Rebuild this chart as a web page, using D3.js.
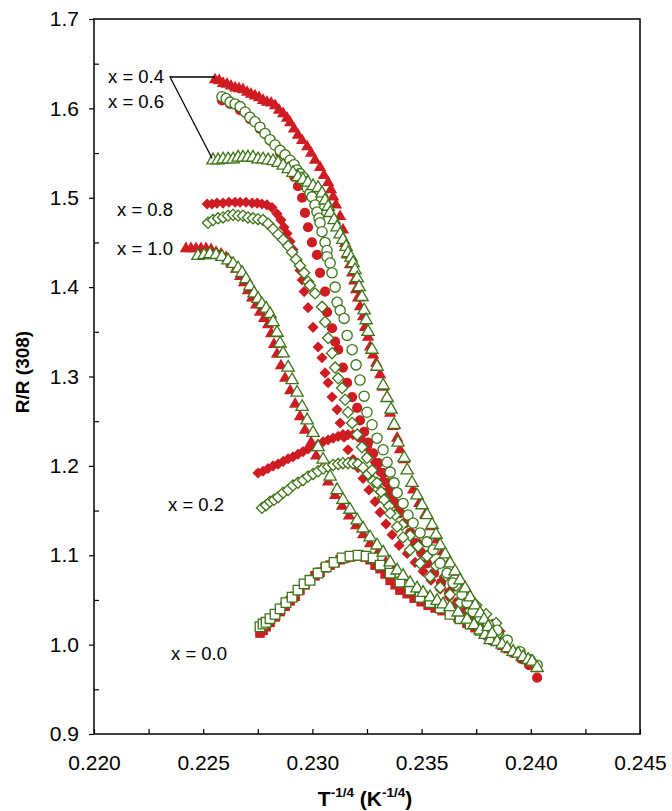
<!DOCTYPE html>
<html><head><meta charset="utf-8">
<script src="https://cdn.jsdelivr.net/npm/d3@7"></script>
<style>body{margin:0;background:#fff}svg{display:block}</style>
</head><body>
<svg id="c" width="672" height="811"></svg>
<script>
const xMajor = [0.220,0.225,0.230,0.235,0.240,0.245];
const xMinor = [0.2225,0.2275,0.2325,0.2375,0.2425];
const yMajor = [0.9,1.0,1.1,1.2,1.3,1.4,1.5,1.6,1.7];
const yMinor = [0.95,1.05,1.15,1.25,1.35,1.45,1.55,1.65];

// x = 0.4 (triangles)
const x04Red = [[0.22554,1.632],[0.22573,1.631],[0.22591,1.628],[0.22609,1.627],[0.22627,1.625],[0.22646,1.623],[0.22664,1.622],[0.22682,1.621],[0.22701,1.618],[0.22719,1.616],[0.22737,1.614],[0.22756,1.612],[0.22774,1.609],[0.22792,1.607],[0.22811,1.606],[0.22829,1.603],[0.22847,1.598],[0.22866,1.594],[0.22884,1.589],[0.22898,1.584],[0.22916,1.577],[0.22934,1.570],[0.22953,1.564],[0.22976,1.557],[0.22994,1.550],[0.23012,1.542],[0.23035,1.534],[0.23053,1.525],[0.23072,1.517],[0.23085,1.509],[0.23095,1.501],[0.23108,1.492],[0.23127,1.479],[0.23140,1.464],[0.23150,1.449],[0.23159,1.436],[0.23172,1.425],[0.23182,1.416],[0.23191,1.407],[0.23200,1.397],[0.23209,1.388],[0.23218,1.378],[0.23232,1.367],[0.23241,1.355],[0.23255,1.344],[0.23264,1.333],[0.23278,1.324],[0.23292,1.315],[0.23310,1.302],[0.23324,1.288],[0.23342,1.277],[0.23356,1.259],[0.23369,1.244],[0.23388,1.231],[0.23401,1.218],[0.23420,1.207],[0.23434,1.195],[0.23461,1.173],[0.23489,1.158],[0.23516,1.145],[0.23543,1.132],[0.23571,1.117],[0.23598,1.104],[0.23626,1.092],[0.23653,1.081],[0.23681,1.070],[0.23708,1.059],[0.23736,1.048],[0.23763,1.038],[0.23791,1.028],[0.23818,1.016],[0.23846,1.005],[0.23873,0.998],[0.23901,0.994],[0.23928,0.990],[0.23956,0.986],[0.23983,0.982],[0.24011,0.977],[0.24029,0.973]];
const x04Green = [[0.22545,1.542],[0.22568,1.542],[0.22591,1.543],[0.22614,1.543],[0.22637,1.543],[0.22660,1.545],[0.22682,1.545],[0.22705,1.545],[0.22728,1.545],[0.22751,1.543],[0.22774,1.543],[0.22797,1.542],[0.22820,1.541],[0.22843,1.539],[0.22866,1.536],[0.22889,1.532],[0.22911,1.528],[0.22934,1.523],[0.22957,1.520],[0.22980,1.517],[0.23003,1.513],[0.23026,1.511],[0.23044,1.505],[0.23058,1.497],[0.23072,1.490],[0.23081,1.483],[0.23099,1.475],[0.23113,1.467],[0.23127,1.459],[0.23140,1.453],[0.23154,1.445],[0.23163,1.438],[0.23177,1.433],[0.23186,1.427],[0.23195,1.419],[0.23205,1.410],[0.23214,1.400],[0.23227,1.389],[0.23237,1.374],[0.23246,1.363],[0.23255,1.350],[0.23273,1.330],[0.23296,1.311],[0.23324,1.290],[0.23342,1.276],[0.23360,1.263],[0.23374,1.246],[0.23392,1.226],[0.23420,1.209],[0.23434,1.195],[0.23456,1.181],[0.23479,1.167],[0.23502,1.156],[0.23525,1.145],[0.23548,1.134],[0.23566,1.123],[0.23585,1.111],[0.23608,1.101],[0.23630,1.091],[0.23653,1.082],[0.23676,1.072],[0.23699,1.063],[0.23722,1.053],[0.23745,1.044],[0.23768,1.035],[0.23786,1.028],[0.23805,1.020],[0.23823,1.012],[0.23846,1.003],[0.23869,1.000],[0.23892,0.996],[0.23919,0.992],[0.23942,0.990],[0.23965,0.986],[0.23988,0.983],[0.24006,0.981],[0.24029,0.974]];

// x = 0.6 (circles)
const x06Red = [[0.22586,1.609],[0.22623,1.605],[0.22669,1.598],[0.22714,1.588],[0.22760,1.577],[0.22806,1.564],[0.22852,1.550],[0.22889,1.537],[0.22916,1.524],[0.22934,1.513],[0.22953,1.500],[0.22966,1.483],[0.22980,1.467],[0.22998,1.450],[0.23021,1.436],[0.23035,1.416],[0.23058,1.395],[0.23067,1.372],[0.23090,1.354],[0.23104,1.339],[0.23118,1.330],[0.23140,1.310],[0.23159,1.293],[0.23182,1.277],[0.23205,1.265],[0.23218,1.251],[0.23237,1.238],[0.23255,1.226],[0.23278,1.214],[0.23301,1.203],[0.23324,1.192],[0.23342,1.181],[0.23356,1.170],[0.23379,1.158],[0.23401,1.147],[0.23424,1.136],[0.23447,1.125],[0.23470,1.114],[0.23498,1.103],[0.23525,1.091],[0.23557,1.080],[0.23589,1.069],[0.23626,1.058],[0.23663,1.047],[0.23699,1.037],[0.23736,1.028],[0.23772,1.020],[0.23809,1.013],[0.23846,1.005],[0.23882,0.997],[0.23919,0.991],[0.23956,0.984],[0.23992,0.977],[0.24029,0.963]];
const x06Green = [[0.22586,1.613],[0.22605,1.611],[0.22623,1.607],[0.22646,1.605],[0.22669,1.602],[0.22692,1.596],[0.22714,1.590],[0.22737,1.585],[0.22760,1.579],[0.22783,1.572],[0.22806,1.565],[0.22829,1.559],[0.22852,1.553],[0.22875,1.548],[0.22898,1.542],[0.22916,1.537],[0.22930,1.531],[0.22943,1.527],[0.22957,1.523],[0.22966,1.518],[0.22976,1.511],[0.22989,1.505],[0.22998,1.501],[0.23012,1.492],[0.23021,1.484],[0.23030,1.477],[0.23035,1.472],[0.23044,1.462],[0.23058,1.450],[0.23067,1.441],[0.23067,1.434],[0.23081,1.427],[0.23090,1.416],[0.23104,1.400],[0.23113,1.383],[0.23127,1.374],[0.23145,1.365],[0.23159,1.346],[0.23182,1.330],[0.23200,1.313],[0.23218,1.296],[0.23237,1.278],[0.23250,1.260],[0.23273,1.246],[0.23296,1.231],[0.23324,1.218],[0.23342,1.204],[0.23356,1.193],[0.23374,1.181],[0.23388,1.170],[0.23415,1.158],[0.23438,1.145],[0.23461,1.136],[0.23493,1.125],[0.23525,1.115],[0.23553,1.106],[0.23585,1.091],[0.23617,1.080],[0.23644,1.069],[0.23685,1.056],[0.23708,1.047],[0.23736,1.037],[0.23768,1.030],[0.23805,1.022],[0.23846,1.016],[0.23892,1.005],[0.23951,0.992],[0.23997,0.983],[0.24029,0.977]];

// x = 0.8 (diamonds)
const x08Red = [[0.22518,1.493],[0.22540,1.493],[0.22563,1.494],[0.22591,1.494],[0.22618,1.495],[0.22646,1.495],[0.22669,1.495],[0.22696,1.495],[0.22724,1.494],[0.22747,1.494],[0.22769,1.493],[0.22792,1.492],[0.22815,1.489],[0.22838,1.482],[0.22856,1.475],[0.22870,1.467],[0.22884,1.460],[0.22898,1.451],[0.22911,1.442],[0.22930,1.430],[0.22943,1.419],[0.22953,1.408],[0.22962,1.395],[0.22980,1.377],[0.23003,1.355],[0.23026,1.333],[0.23044,1.321],[0.23058,1.304],[0.23072,1.293],[0.23090,1.277],[0.23113,1.263],[0.23127,1.248],[0.23145,1.232],[0.23163,1.218],[0.23186,1.207],[0.23209,1.198],[0.23232,1.186],[0.23259,1.173],[0.23287,1.160],[0.23310,1.148],[0.23337,1.135],[0.23365,1.123],[0.23397,1.111],[0.23434,1.102],[0.23470,1.092],[0.23507,1.082],[0.23543,1.072],[0.23585,1.062],[0.23626,1.053],[0.23667,1.044],[0.23708,1.035],[0.23750,1.028],[0.23791,1.020],[0.23832,1.012]];
const x08Green = [[0.22522,1.472],[0.22545,1.475],[0.22568,1.477],[0.22591,1.478],[0.22614,1.480],[0.22637,1.481],[0.22660,1.480],[0.22682,1.480],[0.22705,1.478],[0.22728,1.477],[0.22751,1.476],[0.22774,1.475],[0.22797,1.471],[0.22820,1.465],[0.22843,1.459],[0.22866,1.453],[0.22889,1.446],[0.22907,1.439],[0.22925,1.431],[0.22943,1.424],[0.22962,1.416],[0.22980,1.406],[0.22989,1.402],[0.23012,1.393],[0.23044,1.378],[0.23058,1.361],[0.23072,1.343],[0.23090,1.326],[0.23104,1.310],[0.23118,1.298],[0.23136,1.287],[0.23150,1.274],[0.23163,1.260],[0.23182,1.248],[0.23205,1.235],[0.23227,1.221],[0.23250,1.209],[0.23273,1.195],[0.23296,1.181],[0.23315,1.171],[0.23328,1.162],[0.23356,1.147],[0.23388,1.132],[0.23415,1.120],[0.23447,1.106],[0.23493,1.091],[0.23539,1.076],[0.23585,1.064],[0.23630,1.056],[0.23676,1.047],[0.23722,1.038],[0.23768,1.029],[0.23814,1.020],[0.23850,1.012]];

// x = 1.0 (triangles)
const x10Red = [[0.22421,1.443],[0.22444,1.443],[0.22467,1.443],[0.22490,1.443],[0.22513,1.443],[0.22536,1.442],[0.22559,1.439],[0.22582,1.437],[0.22605,1.433],[0.22627,1.427],[0.22650,1.420],[0.22669,1.412],[0.22687,1.405],[0.22705,1.396],[0.22724,1.388],[0.22742,1.380],[0.22760,1.372],[0.22779,1.365],[0.22797,1.358],[0.22811,1.348],[0.22824,1.336],[0.22838,1.325],[0.22856,1.312],[0.22875,1.298],[0.22898,1.284],[0.22921,1.269],[0.22943,1.255],[0.22966,1.240],[0.22994,1.226],[0.23017,1.211],[0.23044,1.197],[0.23072,1.182],[0.23104,1.167],[0.23136,1.155],[0.23168,1.144],[0.23200,1.133],[0.23232,1.123],[0.23264,1.113],[0.23301,1.103],[0.23337,1.092],[0.23374,1.083],[0.23411,1.075],[0.23447,1.067],[0.23484,1.060],[0.23525,1.053],[0.23566,1.048],[0.23608,1.042],[0.23649,1.035],[0.23690,1.029],[0.23731,1.022],[0.23772,1.015],[0.23809,1.009],[0.23832,1.004]];
const x10Green = [[0.22476,1.435],[0.22504,1.436],[0.22531,1.437],[0.22559,1.436],[0.22586,1.434],[0.22614,1.430],[0.22637,1.426],[0.22660,1.421],[0.22678,1.416],[0.22696,1.409],[0.22714,1.401],[0.22733,1.393],[0.22751,1.387],[0.22769,1.381],[0.22788,1.376],[0.22806,1.370],[0.22820,1.361],[0.22838,1.349],[0.22852,1.337],[0.22866,1.326],[0.22889,1.310],[0.22907,1.296],[0.22930,1.282],[0.22953,1.266],[0.22976,1.251],[0.23003,1.237],[0.23026,1.221],[0.23049,1.207],[0.23081,1.188],[0.23113,1.173],[0.23140,1.162],[0.23172,1.151],[0.23205,1.139],[0.23232,1.130],[0.23264,1.120],[0.23296,1.111],[0.23324,1.103],[0.23356,1.092],[0.23388,1.083],[0.23415,1.077],[0.23447,1.069],[0.23479,1.063],[0.23507,1.058],[0.23539,1.053],[0.23571,1.049],[0.23598,1.045],[0.23630,1.042],[0.23667,1.036],[0.23708,1.028],[0.23740,1.022],[0.23768,1.016],[0.23791,1.011],[0.23814,1.005]];

// x = 0.2 (diamonds)
const x02Red = [[0.22751,1.192],[0.22774,1.194],[0.22797,1.197],[0.22820,1.200],[0.22843,1.202],[0.22866,1.205],[0.22889,1.208],[0.22911,1.210],[0.22934,1.213],[0.22957,1.216],[0.22980,1.219],[0.23003,1.222],[0.23026,1.224],[0.23049,1.227],[0.23072,1.229],[0.23095,1.231],[0.23118,1.233],[0.23140,1.235],[0.23163,1.235],[0.23186,1.235],[0.23209,1.232],[0.23232,1.228],[0.23250,1.221],[0.23269,1.213],[0.23287,1.204],[0.23305,1.194],[0.23324,1.184],[0.23347,1.173],[0.23369,1.162],[0.23397,1.150],[0.23424,1.137],[0.23456,1.125],[0.23489,1.113],[0.23525,1.100],[0.23562,1.088],[0.23603,1.076],[0.23644,1.064],[0.23685,1.053],[0.23731,1.043],[0.23777,1.033],[0.23823,1.023],[0.23859,1.015]];
const x02Green = [[0.22769,1.153],[0.22788,1.156],[0.22806,1.160],[0.22824,1.162],[0.22843,1.165],[0.22866,1.170],[0.22889,1.173],[0.22911,1.178],[0.22934,1.181],[0.22957,1.184],[0.22980,1.188],[0.23003,1.191],[0.23026,1.194],[0.23049,1.197],[0.23072,1.199],[0.23095,1.201],[0.23118,1.202],[0.23140,1.203],[0.23163,1.203],[0.23186,1.203],[0.23209,1.202],[0.23232,1.198],[0.23255,1.191],[0.23278,1.183],[0.23301,1.174],[0.23324,1.165],[0.23351,1.155],[0.23379,1.145],[0.23411,1.134],[0.23447,1.122],[0.23484,1.110],[0.23525,1.099],[0.23566,1.088],[0.23612,1.077],[0.23658,1.066],[0.23704,1.054],[0.23750,1.044],[0.23795,1.034],[0.23841,1.024]];

// x = 0.0 (squares)
const x00Red = [[0.22760,1.013],[0.22774,1.016],[0.22788,1.020],[0.22806,1.025],[0.22829,1.031],[0.22852,1.037],[0.22875,1.043],[0.22898,1.049],[0.22921,1.054],[0.22943,1.061],[0.22966,1.067],[0.22989,1.072],[0.23012,1.077],[0.23035,1.081],[0.23058,1.086],[0.23081,1.089],[0.23104,1.092],[0.23127,1.095],[0.23150,1.097],[0.23172,1.098],[0.23195,1.099],[0.23218,1.099],[0.23241,1.098],[0.23264,1.095],[0.23287,1.089],[0.23310,1.085],[0.23333,1.079],[0.23356,1.072],[0.23379,1.067],[0.23401,1.061],[0.23434,1.057],[0.23466,1.052],[0.23498,1.048],[0.23530,1.044],[0.23562,1.041],[0.23594,1.038],[0.23630,1.034],[0.23667,1.030],[0.23708,1.024],[0.23745,1.019],[0.23786,1.012],[0.23827,1.005]];
const x00Green = [[0.22760,1.020],[0.22774,1.023],[0.22788,1.025],[0.22806,1.029],[0.22829,1.034],[0.22852,1.040],[0.22879,1.047],[0.22907,1.053],[0.22934,1.061],[0.22962,1.068],[0.22989,1.072],[0.23026,1.080],[0.23063,1.087],[0.23099,1.092],[0.23136,1.097],[0.23172,1.099],[0.23209,1.100],[0.23246,1.099],[0.23278,1.097],[0.23310,1.089],[0.23356,1.080],[0.23401,1.070],[0.23447,1.061],[0.23493,1.053],[0.23539,1.047],[0.23585,1.041],[0.23630,1.034],[0.23676,1.029],[0.23722,1.023],[0.23768,1.016],[0.23814,1.010]];

const labels = ["x = 0.4","x = 0.6","x = 0.8","x = 1.0","x = 0.2","x = 0.0"];

const RED = "#cf1b22", GREEN = "#3b7516";
const series = [
  {data:x00Red, shape:"square", fill:true},
  {data:x02Red, shape:"diamond", fill:true},
  {data:x10Red, shape:"triangle", fill:true},
  {data:x08Red, shape:"diamond", fill:true},
  {data:x06Red, shape:"circle", fill:true},
  {data:x04Red, shape:"triangle", fill:true},
  {data:x00Green, shape:"square", fill:false},
  {data:x02Green, shape:"diamond", fill:false},
  {data:x10Green, shape:"triangle", fill:false},
  {data:x08Green, shape:"diamond", fill:false},
  {data:x06Green, shape:"circle", fill:false},
  {data:x04Green, shape:"triangle", fill:false}
];

const svg = d3.select("#c");
const L = 94, R = 640, T = 19, B = 734;
const x = d3.scaleLinear().domain([0.220,0.245]).range([L,R]);
const y = d3.scaleLinear().domain([0.9,1.7]).range([B,T]);
const FONT = "'Liberation Sans', Arial, sans-serif";

svg.append("rect").attr("x",0).attr("y",0).attr("width",672).attr("height",811).attr("fill","#fff");

// axes
const gx = svg.append("g").attr("transform",`translate(0,${B})`)
  .call(d3.axisBottom(x).tickValues(xMajor).tickFormat(d3.format(".3f")).tickSizeInner(-5).tickSizeOuter(0).tickPadding(21));
const gxm = svg.append("g").attr("transform",`translate(0,${B})`)
  .call(d3.axisBottom(x).tickValues(xMinor).tickFormat("").tickSizeInner(-5).tickSizeOuter(0));
const gy = svg.append("g").attr("transform",`translate(${L},0)`)
  .call(d3.axisLeft(y).tickValues(yMajor).tickFormat(d3.format(".1f")).tickSizeInner(5).tickSizeOuter(0).tickPadding(10));
const gym = svg.append("g").attr("transform",`translate(${L},0)`)
  .call(d3.axisLeft(y).tickValues(yMinor).tickFormat("").tickSizeInner(-5).tickSizeOuter(0));
[gx,gxm,gy,gym].forEach(g=>{
  g.select(".domain").remove();
  g.selectAll("line").attr("stroke","#000").attr("stroke-width",1.2);
  g.selectAll("text").attr("font-family",FONT).attr("font-size",21).attr("fill","#000");
});
svg.append("rect").attr("x",L).attr("y",T).attr("width",R-L).attr("height",B-T)
  .attr("fill","none").attr("stroke","#000").attr("stroke-width",1.5);

// markers
const symGen = {
  square: d3.symbol(d3.symbolSquare, 92),
  diamond: d3.symbol(d3.symbolSquare, 62),
  triangle: d3.symbol(d3.symbolTriangle, 66),
  circle: d3.symbol(d3.symbolCircle, 82)
};
const gm = svg.append("g");
series.forEach(s=>{
  gm.append("g").selectAll("path").data(s.data).join("path")
    .attr("d", symGen[s.shape]())
    .attr("transform", d=>`translate(${x(d[0])},${y(d[1])})` + (s.shape==="diamond"?" rotate(45)":""))
    .attr("fill", s.fill ? RED : "#fff")
    .attr("stroke", s.fill ? "none" : GREEN)
    .attr("stroke-width", 1.3);
});

// annotations
const lab = svg.append("g").attr("font-family",FONT).attr("font-size",18.5).attr("fill","#000");
const lp = [[108,83],[108,108],[117,216],[117,255],[168,511],[171,660]];
labels.forEach((t,i)=>{
  lab.append("text").attr("x",lp[i][0]).attr("y",lp[i][1]).text(t);
});
const lx0 = 170, ly0 = 77;
svg.append("path").attr("fill","none").attr("stroke","#000").attr("stroke-width",1.3)
  .attr("d", `M${x(x04Red[0][0])},${ly0}L${lx0},${ly0}L${x(x04Green[0][0])-1},${y(x04Green[0][1])-2}`);

// axis titles
svg.append("text").attr("x",(L+R)/2 - 2).attr("y",806).attr("text-anchor","middle")
  .attr("font-family",FONT).attr("font-weight","bold").attr("font-size",21)
  .html('T<tspan dy="-9" font-size="13.5">-1/4</tspan><tspan dy="9"> (K</tspan><tspan dy="-9" font-size="13.5">-1/4</tspan><tspan dy="9">)</tspan>');
svg.append("text").attr("transform",`translate(29,372) rotate(-90)`).attr("text-anchor","middle")
  .attr("font-family",FONT).attr("font-weight","bold").attr("font-size",19)
  .text("R/R (308)");
</script>
</body></html>
